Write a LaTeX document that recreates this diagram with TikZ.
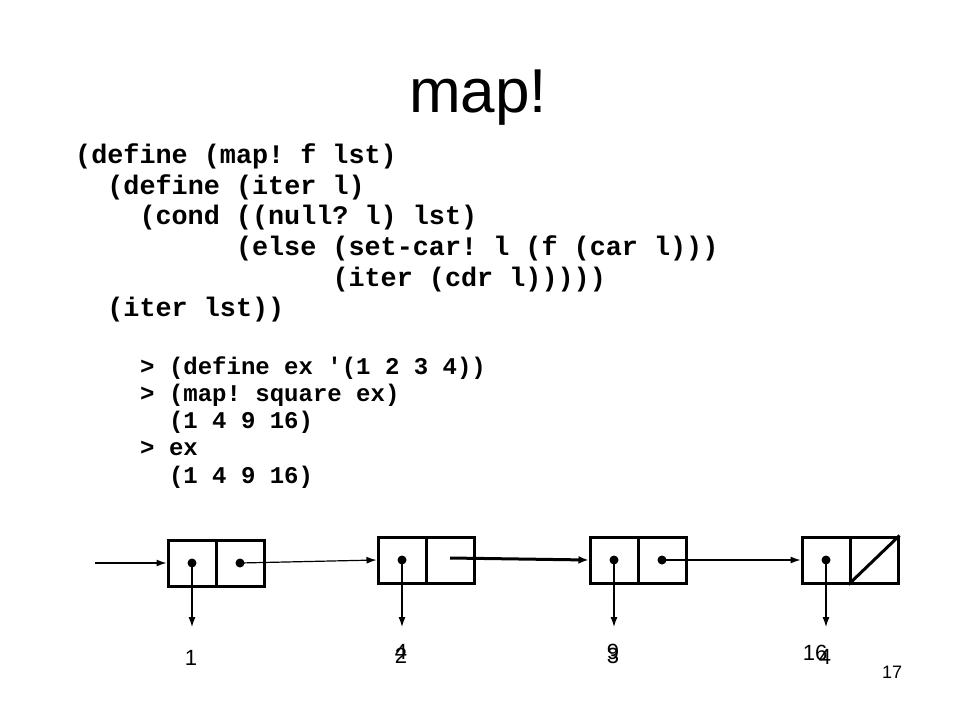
\documentclass[tikz,border=0pt]{standalone}
\usepackage{fontspec}
\setmainfont{Liberation Sans}
\setmonofont{Liberation Mono}
\usetikzlibrary{arrows.meta}
\begin{document}
\begin{tikzpicture}[x=1pt,y=-1pt,
  code/.style={anchor=base west,inner sep=0pt,font=\fontsize{26.8}{30}\selectfont\ttfamily\bfseries},
  repl/.style={anchor=base west,inner sep=0pt,font=\fontsize{24}{28}\selectfont\ttfamily\bfseries},
  half/.style={draw,line width=3pt,minimum width=48pt,minimum height=46pt,inner sep=0pt},
  dot/.style={circle,fill,minimum size=9pt,inner sep=0pt},
  ptr/.style={line width=1.2pt,-{Latex[length=10pt,width=7pt]}},
  num/.style={anchor=base,inner sep=0pt,font=\fontsize{22}{26}\selectfont},
]
\useasboundingbox[fill=white] (0,0) rectangle (960,720);

% title
\node[anchor=base,inner sep=0pt,font=\fontsize{62}{70}\selectfont] (title) at (478,112) {map!};

% code
\node[code] (l1) at (75,163.5) {(define (map! f lst)};
\node[code] (l2) at (107.2,194) {(define (iter l)};
\node[code] (l3) at (139.3,224.7) {(cond ((null? l) lst)};
\node[code] (l4) at (235.8,255.3) {(else (set-car! l (f (car l)))};
\node[code] (l5) at (332.3,286) {(iter (cdr l)))))};
\node[code] (l6) at (107.2,316.5) {(iter lst))};

% repl
\node[repl] (r1) at (140,374) {> (define ex '(1 2 3 4))};
\node[repl] (r2) at (140,401) {> (map! square ex)};
\node[repl] (r3) at (168.8,428) {(1 4 9 16)};
\node[repl] (r4) at (140,455) {> ex};
\node[repl] (r5) at (168.8,483) {(1 4 9 16)};

% cells
\node[half] (c1a) at (192,563) {};
\node[half] (c1b) at (240,563) {};
\node[half] (c2a) at (402,560) {};
\node[half] (c2b) at (450,560) {};
\node[half] (c3a) at (614,560) {};
\node[half] (c3b) at (662,560) {};
\node[half] (c4a) at (826,560) {};
\node[half] (c4b) at (874,560) {};

\node[dot] (d1a) at (c1a.center) {};
\node[dot] (d1b) at (c1b.center) {};
\node[dot] (d2a) at (c2a.center) {};
\node[dot] (d3a) at (c3a.center) {};
\node[dot] (d3b) at (c3b.center) {};
\node[dot] (d4a) at (c4a.center) {};

\draw[line width=3pt] (c4b.south west) -- (c4b.north east);

% pointers
\coordinate (start) at (95,563);
\draw[ptr] (start) -- (c1a.west);
\draw[ptr] (d1b.center) -- (c2a.west);
\draw[line width=3pt,-{Latex[length=10pt,width=8pt]}] ([yshift=2pt]c2b.center) -- (c3a.west);
\draw[ptr] (d3b.center) -- (c4a.west);

\coordinate (b1) at (192,627);
\coordinate (b2) at (402,627);
\coordinate (b3) at (614,627);
\coordinate (b4) at (826,627);
\draw[ptr] (d1a.center) -- (b1);
\draw[ptr] (d2a.center) -- (b2);
\draw[ptr] (d3a.center) -- (b3);
\draw[ptr] (d4a.center) -- (b4);

% values
\node[num] (v1) at (191,665) {1};
\node[num] (v2old) at (401,663) {2};
\node[num] (v2new) at (401,659) {4};
\node[num] (v3old) at (613,663) {3};
\node[num] (v3new) at (613,659) {9};
\node[num] (v4old) at (825,664) {4};
\node[num] (v4new) at (815,660) {16};

\node[anchor=base,inner sep=0pt,font=\fontsize{18}{22}\selectfont] (page) at (892,678) {17};
\end{tikzpicture}
\end{document}
